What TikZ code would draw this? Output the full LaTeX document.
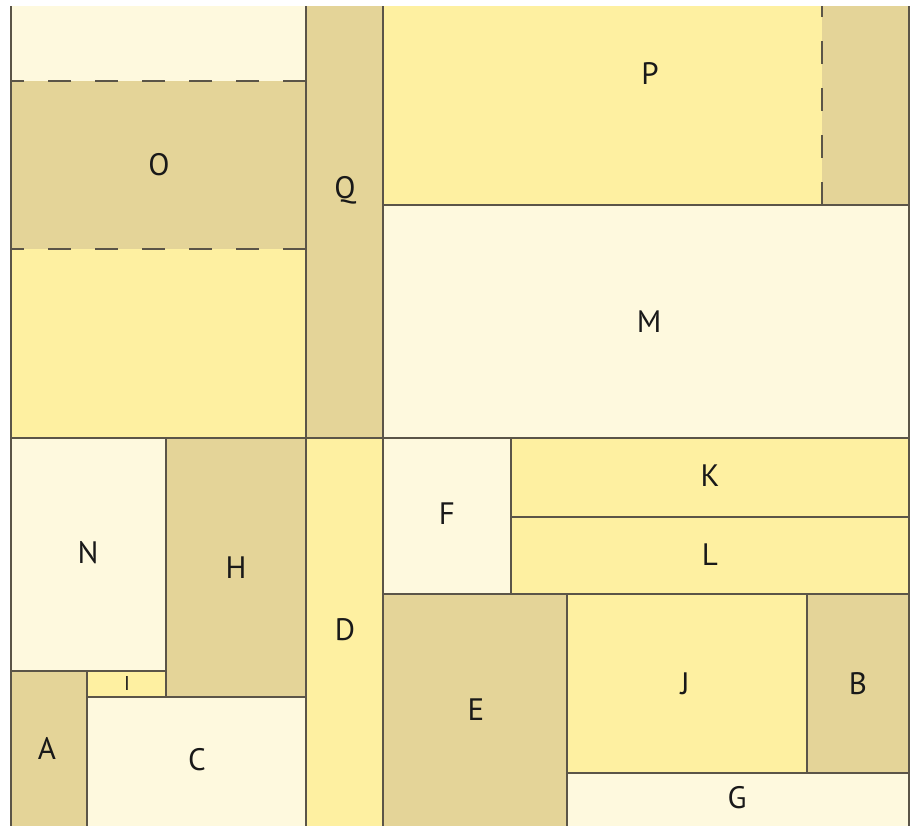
\documentclass[tikz,border=0pt]{standalone}
\usepackage{fontspec}
\setmainfont{PT Sans}
\definecolor{cellcream}{HTML}{FEF9DE}
\definecolor{cellyellow}{HTML}{FEF0A1}
\definecolor{celltan}{HTML}{E4D498}
\definecolor{edge}{HTML}{5B5548}

\begin{document}
\begin{tikzpicture}[x=1pt, y=-1pt,
      cell/.style={draw=edge, line width=1.6pt},
      cream/.style={cell, fill=cellcream},
      yellow/.style={cell, fill=cellyellow},
      tan/.style={cell, fill=celltan},
      split/.style={draw=edge, line width=1.6pt, dash pattern=on 23.5pt off 23.5pt},
      lbl/.style={font=\fontsize{31}{33}\selectfont, text=black!90}]
    \useasboundingbox (0,0) rectangle (917,825);
    \clip (0,6) rectangle (917,830);
    % top left block with O
    \fill[cellcream] (11,4) rectangle (306,81);
    \fill[celltan] (11,81) rectangle (306,249);
    \fill[cellyellow] (11,249) rectangle (306,438);
    \draw[cell] (11,4) rectangle (306,438);
    \draw[split] (306,81) -- (11,81);
    \draw[split] (306,249) -- (11,249);
    % Q column
    \draw[tan] (306,4) rectangle (383,438);
    % P block
    \fill[cellyellow] (383,4) rectangle (822,205);
    \fill[celltan] (822,4) rectangle (909,205);
    \draw[cell] (383,4) rectangle (909,205);
    \draw[split] (822,205) -- (822,4);
    \draw[cream] (383,205) rectangle (909,438);
    % lower left
    \draw[cream] (11,438) rectangle (166,671);
    \draw[tan] (166,438) rectangle (306,697);
    \draw[yellow] (87,671) rectangle (166,697);
    \draw[tan] (11,671) rectangle (87,828);
    \draw[cream] (87,697) rectangle (306,828);
    \draw[yellow] (306,438) rectangle (383,828);
    % lower right
    \draw[cream] (383,438) rectangle (511,594);
    \draw[yellow] (511,438) rectangle (909,517);
    \draw[yellow] (511,517) rectangle (909,594);
    \draw[tan] (383,594) rectangle (567,828);
    \draw[yellow] (567,594) rectangle (807,773);
    \draw[tan] (807,594) rectangle (909,773);
    \draw[cream] (567,773) rectangle (909,828);
    % labels
    \node[lbl] (O) at (159,165) {O};
    \node[lbl] (Q) at (345,190) {Q};
    \node[lbl] (P) at (650,74) {P};
    \node[lbl] (M) at (649,322) {M};
    \node[lbl] (N) at (88,553) {N};
    \node[lbl] (H) at (236,568) {H};
    \node[lbl] (D) at (345,630) {D};
    \node[lbl, font=\fontsize{20}{22}\selectfont] (I) at (127,683) {I};
    \node[lbl] (A) at (47,748) {A};
    \node[lbl] (C) at (197,760) {C};
    \node[lbl] (F) at (447,514) {F};
    \node[lbl] (K) at (710,476) {K};
    \node[lbl] (L) at (710,555) {L};
    \node[lbl] (E) at (476,710) {E};
    \node[lbl] (J) at (685,684) {J};
    \node[lbl] (B) at (858,684) {B};
    \node[lbl] (G) at (737,798) {G};
\end{tikzpicture}
\end{document}
